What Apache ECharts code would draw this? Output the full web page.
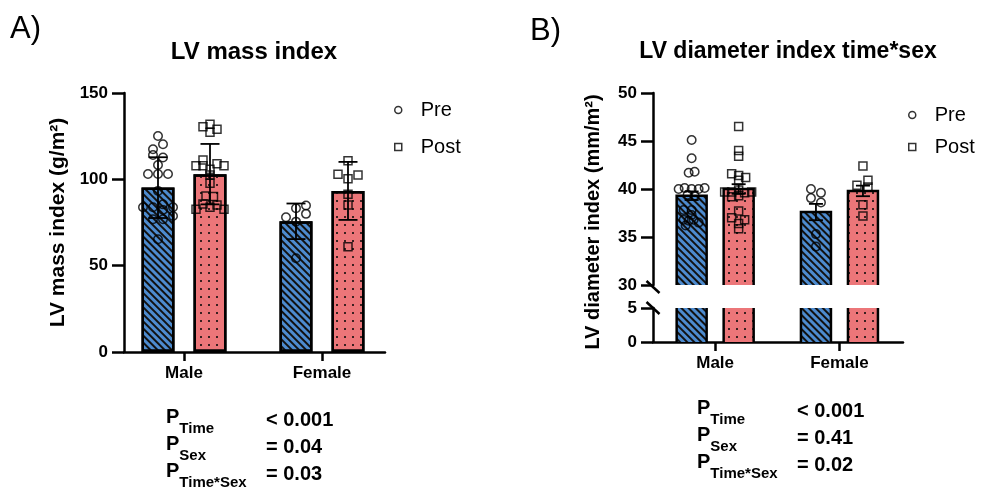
<!DOCTYPE html>
<html><head><meta charset="utf-8">
<script src="https://cdn.jsdelivr.net/npm/echarts@6/dist/echarts.min.js"></script>
<style>html,body{margin:0;padding:0;background:#fff}#c{width:982px;height:492px}</style>
</head><body><div id="c"></div>
<script>
// ---------- DATA ----------
const categories = ['Male', 'Female'];
const seriesNames = ['Pre', 'Post'];

// Panel A: LV mass index (g/m²) — mean ± SD
const massMeanPre  = [95.2, 75.7];
const massMeanPost = [103.0, 93.3];
const massSdPre    = [17.6, 10.3];
const massSdPost   = [17.5, 16.8];
const massMalePre    = [125.1,120.3,117.4,114.1,112.6,108.3,103.1,103.1,103.1,93.3,83.8,83.8,85.5,82.3,83.8,78.8,76.9,76.9,65.3];
const massMalePreJit = [0,5,-5,-5,5,0,-10,0,10,0,-15,-5,5,5,15,15,-5,5,0];
const massMalePost    = [130.5,131.9,129.0,127.3,107.9,111.2,107.9,105.8,109.0,107.9,102.5,97.7,90.4,90.0,85.7,83.8,85.2,82.7,82.7];
const massMalePostJit = [-7,0,7,0,-14,-7,-7,0,7,14,0,0,-4,3.5,-7,0,7,-14,14];
const massFemalePre    = [78.0,83.3,84.8,80.0,75.5,54.3];
const massFemalePreJit = [-10,0,10,10,0,0];
const massFemalePost    = [110.7,103.0,100.4,102.5,91.4,85.2,61.0];
const massFemalePostJit = [0,-10,0,10,0,0,0];

// Panel B: LV diameter index (mm/m²) — mean ± SEM
const diamMeanPre  = [39.3, 37.6];
const diamMeanPost = [40.0, 39.8];
const diamSemPre   = [0.45, 0.85];
const diamSemPost  = [0.5, 0.55];
const diamMalePre    = [45.1,43.2,41.7,41.8,40.0,40.1,40.0,40.0,40.1,39.4,39.3,37.8,37.8,37.3,36.8,36.7,36.8,36.5,36.2];
const diamMalePreJit = [0,0,-3,3,-13,-7,0,7,13,-4,3,-8,0,0,-8,-3,2,7,-6];
const diamMalePost    = [46.5,44.0,43.4,41.6,41.4,41.2,40.9,39.7,39.7,39.9,39.6,39.7,39.3,39.2,37.7,37.0,36.8,36.4,35.85];
const diamMalePostJit = [0,0,0,-7,0,7,0,-14,-7,0,6,13,0,-7,0,-7,6,0,0];
const diamFemalePre    = [40.0,39.6,39.05,38.6,35.3,34.0];
const diamFemalePreJit = [-5,5,-5,5,0,0];
const diamFemalePost    = [42.4,40.9,40.4,40.2,38.35,37.2];
const diamFemalePostJit = [0,5,-6,5,0,0];

const massTicks = [0, 50, 100, 150];
const diamTicksUpper = [30, 35, 40, 45, 50];
const diamTicksLower = [0, 5];

const pLabelsA = [['Time', '< 0.001'], ['Sex', '= 0.04'], ['Time*Sex', '= 0.03']];
const pLabelsB = [['Time', '< 0.001'], ['Sex', '= 0.41'], ['Time*Sex', '= 0.02']];

// ---------- LAYOUT / STYLE ----------
const FONT = '"Liberation Sans", Arial, Helvetica, sans-serif';
const BLUE = '#4d8bcf', PINK = '#ec7679';
const GA = {left: 124, top: 93, width: 261, height: 259};
const GBu = {left: 653, top: 93, width: 250, height: 192};
const GBl = {left: 653, top: 308, width: 250, height: 34};
// x axis in "category spacing" units
const A = {spacing: 138, first: 60 / 138, off: 26 / 138, barW: 33, cap: 19};
const B = {spacing: 124.3, first: 0.5, off: 23.5 / 124.3, barW: 30, cap: 14};
A.max = GA.width / A.spacing; B.max = GBu.width / B.spacing;

const hatch = {symbol: 'rect', symbolSize: 1, dashArrayX: [1, 0], dashArrayY: [1.5, 2.2], rotation: Math.PI / 4, color: '#111'};
const dots = {symbol: 'rect', symbolSize: 1, dashArrayX: [[1.4, 5.2]], dashArrayY: [1.4, 5.2], rotation: 0, color: '#3a2020'};
const barStyle = (i, bw) => ({color: i === 0 ? BLUE : PINK, borderColor: '#000', borderWidth: bw, decal: i === 0 ? hatch : dots});

function catPos(L, ci, si) { return L.first + ci + (si === 0 ? -L.off : L.off); }

function barData(L, pre, post, bw) {
  const out = [];
  for (let c = 0; c < categories.length; c++) {
    out.push({value: [catPos(L, c, 0), pre[c]], itemStyle: barStyle(0, bw)});
    out.push({value: [catPos(L, c, 1), post[c]], itemStyle: barStyle(1, bw)});
  }
  return out;
}
function errData(L, pre, post, ePre, ePost) {
  const out = [];
  for (let c = 0; c < categories.length; c++) {
    out.push([catPos(L, c, 0), pre[c] - ePre[c], pre[c] + ePre[c]]);
    out.push([catPos(L, c, 1), post[c] - ePost[c], post[c] + ePost[c]]);
  }
  return out;
}
function pts(L, ci, si, vals, jit) {
  return vals.map((v, i) => [catPos(L, ci, si) + jit[i] / L.spacing, v]);
}
function errRender(capW) {
  return function (params, api) {
    const x = api.value(0), lo = api.value(1), hi = api.value(2);
    const p1 = api.coord([x, lo]), p2 = api.coord([x, hi]);
    const h = capW / 2, st = {stroke: '#000', lineWidth: 1.8};
    return {type: 'group', children: [
      {type: 'line', shape: {x1: p1[0], y1: p1[1], x2: p2[0], y2: p2[1]}, style: st},
      {type: 'line', shape: {x1: p2[0] - h, y1: p2[1], x2: p2[0] + h, y2: p2[1]}, style: st},
      {type: 'line', shape: {x1: p1[0] - h, y1: p1[1], x2: p1[0] + h, y2: p1[1]}, style: st}
    ]};
  };
}
// outline of bars in the broken-axis panel (no edge where the bar is cut by the break)
function outlineRender(barW) {
  return function (params, api) {
    const cs = params.coordSys;
    const p = api.coord([api.value(0), api.value(1)]);
    const yBot = cs.y + cs.height;
    let yTop = p[1], drawTop = true;
    if (yTop < cs.y) { yTop = cs.y; drawTop = false; }
    const xl = p[0] - barW / 2, xr = p[0] + barW / 2;
    const st = {stroke: '#000', lineWidth: 2.5, fill: null};
    if (drawTop) return {type: 'polyline', shape: {points: [[xl, yBot], [xl, yTop], [xr, yTop], [xr, yBot]]}, style: st};
    return {type: 'group', children: [
      {type: 'line', shape: {x1: xl, y1: yTop, x2: xl, y2: yBot}, style: st},
      {type: 'line', shape: {x1: xr, y1: yTop, x2: xr, y2: yBot}, style: st}
    ]};
  };
}

const axisLineS = {show: true, lineStyle: {color: '#000', width: 2.5}};
const tickS = {show: true, inside: false, length: 12, lineStyle: {color: '#000', width: 2.5}};
const labS = {color: '#000', fontFamily: FONT, fontWeight: 'bold', fontSize: 17};

function xAxisFor(L, gridIndex, show) {
  const pos = categories.map((c, i) => L.first + i);
  return {
    type: 'value', gridIndex, min: 0, max: L.max, show,
    axisLine: axisLineS, splitLine: {show: false},
    axisTick: {show: true, length: 9, lineStyle: {color: '#000', width: 2.5}, customValues: pos},
    axisLabel: Object.assign({}, labS, {margin: 13, customValues: pos,
      formatter: (v) => categories[Math.round(v - L.first)]})
  };
}
function yAxisFor(gridIndex, min, max, interval, name) {
  return {
    type: 'value', gridIndex, min, max, interval,
    axisLine: axisLineS, axisTick: tickS, splitLine: {show: false},
    axisLabel: Object.assign({}, labS, {margin: 16}),
    name: name || '', nameLocation: 'middle', nameGap: 55,
    nameTextStyle: {color: '#000', fontFamily: FONT, fontWeight: 'bold', fontSize: 21}
  };
}

const symPre = {symbol: 'circle', symbolSize: 8.5, itemStyle: {color: 'rgba(0,0,0,0)', borderColor: '#000', borderWidth: 1.5}};
const symPost = {symbol: 'rect', symbolSize: 8, itemStyle: {color: 'rgba(0,0,0,0)', borderColor: '#000', borderWidth: 1.5}};

function pRows(x0, x1, y0, dy, rows) {
  const els = [];
  rows.forEach((r, i) => {
    els.push({type: 'text', x: x0, y: y0 + i * dy, style: {
      text: '{p|P}{s|' + r[0] + '}', textVerticalAlign: 'middle', fill: '#000',
      rich: {p: {fontFamily: FONT, fontWeight: 'bold', fontSize: 20, lineHeight: 26, verticalAlign: 'top'},
             s: {fontFamily: FONT, fontWeight: 'bold', fontSize: 15, lineHeight: 15, verticalAlign: 'bottom', padding: [0, 0, -3, 0]}}
    }});
    els.push({type: 'text', x: x1, y: y0 + i * dy, style: {
      text: r[1], textVerticalAlign: 'middle', fill: '#000', font: 'bold 20px ' + FONT}});
  });
  return els;
}

const chart = echarts.init(document.getElementById('c'), null, {renderer: 'canvas'});
const legendItem = (name, icon) => ({name, icon, itemStyle: {color: '#fff', borderColor: '#000', borderWidth: 1.5}});
const legendBase = {orient: 'vertical', itemWidth: 7, itemHeight: 7, selectedMode: false,
  textStyle: {fontFamily: FONT, fontSize: 20, color: '#000', padding: [0, 0, 0, 14]}};

chart.setOption({
  animation: false,
  backgroundColor: '#fff',
  grid: [
    Object.assign({}, GA, {containLabel: false}),
    Object.assign({}, GBu, {containLabel: false}),
    Object.assign({}, GBl, {containLabel: false})
  ],
  xAxis: [xAxisFor(A, 0, true), xAxisFor(B, 1, false), xAxisFor(B, 2, true)],
  yAxis: [
    yAxisFor(0, massTicks[0], massTicks[massTicks.length - 1], 50, 'LV mass index (g/m²)'),
    yAxisFor(1, diamTicksUpper[0], diamTicksUpper[diamTicksUpper.length - 1], 5),
    yAxisFor(2, diamTicksLower[0], diamTicksLower[1], 5)
  ],
  legend: [
    Object.assign({}, legendBase, {left: 389, top: 95, itemGap: 17, data: [legendItem('Pre', 'circle'), legendItem('Post', 'rect')]}),
    Object.assign({}, legendBase, {left: 903, top: 100, itemGap: 12, data: [legendItem('Pre', 'circle'), legendItem('Post', 'rect')]})
  ],
  series: [
    {type: 'bar', xAxisIndex: 0, yAxisIndex: 0, barWidth: A.barW, data: barData(A, massMeanPre, massMeanPost, 2.5), z: 2},
    {type: 'bar', xAxisIndex: 1, yAxisIndex: 1, barWidth: B.barW, clip: true, data: barData(B, diamMeanPre, diamMeanPost, 0), z: 2},
    {type: 'bar', xAxisIndex: 2, yAxisIndex: 2, barWidth: B.barW, clip: true, data: barData(B, diamMeanPre, diamMeanPost, 0), z: 2},
    {type: 'custom', xAxisIndex: 1, yAxisIndex: 1, renderItem: outlineRender(B.barW), silent: true,
      data: barData(B, diamMeanPre, diamMeanPost, 0).map(d => d.value), z: 3},
    {type: 'custom', xAxisIndex: 2, yAxisIndex: 2, renderItem: outlineRender(B.barW), silent: true,
      data: barData(B, diamMeanPre, diamMeanPost, 0).map(d => d.value), z: 3},
    {type: 'custom', xAxisIndex: 0, yAxisIndex: 0, renderItem: errRender(A.cap), data: errData(A, massMeanPre, massMeanPost, massSdPre, massSdPost), z: 3},
    {type: 'custom', xAxisIndex: 1, yAxisIndex: 1, renderItem: errRender(B.cap), data: errData(B, diamMeanPre, diamMeanPost, diamSemPre, diamSemPost), z: 3},
    Object.assign({type: 'scatter', name: 'Pre', xAxisIndex: 0, yAxisIndex: 0, z: 4,
      data: pts(A, 0, 0, massMalePre, massMalePreJit).concat(pts(A, 1, 0, massFemalePre, massFemalePreJit))}, symPre),
    Object.assign({type: 'scatter', name: 'Post', xAxisIndex: 0, yAxisIndex: 0, z: 4,
      data: pts(A, 0, 1, massMalePost, massMalePostJit).concat(pts(A, 1, 1, massFemalePost, massFemalePostJit))}, symPost),
    Object.assign({type: 'scatter', name: 'Pre', xAxisIndex: 1, yAxisIndex: 1, z: 4,
      data: pts(B, 0, 0, diamMalePre, diamMalePreJit).concat(pts(B, 1, 0, diamFemalePre, diamFemalePreJit))}, symPre),
    Object.assign({type: 'scatter', name: 'Post', xAxisIndex: 1, yAxisIndex: 1, z: 4,
      data: pts(B, 0, 1, diamMalePost, diamMalePostJit).concat(pts(B, 1, 1, diamFemalePost, diamFemalePostJit))}, symPost)
  ]
});

// break marks & texts
const yU = chart.convertToPixel({yAxisIndex: 1}, diamTicksUpper[0]);
const yL = chart.convertToPixel({yAxisIndex: 2}, diamTicksLower[1]);
const ax = GBu.left;
const slash = (cy) => ({type: 'line', shape: {x1: ax - 6.5, y1: cy - 6, x2: ax + 6.5, y2: cy + 6}, style: {stroke: '#000', lineWidth: 2.5}});

chart.setOption({
  graphic: [
    {type: 'text', x: 10, y: 29, style: {text: 'A)', font: '31px ' + FONT, fill: '#000', textVerticalAlign: 'middle'}},
    {type: 'text', x: 530, y: 31, style: {text: 'B)', font: '31px ' + FONT, fill: '#000', textVerticalAlign: 'middle'}},
    {type: 'text', x: 254, y: 52, style: {text: 'LV mass index', font: 'bold 24px ' + FONT, fill: '#000', textAlign: 'center', textVerticalAlign: 'middle'}},
    {type: 'text', x: 788, y: 52, style: {text: 'LV diameter index time*sex', font: 'bold 23px ' + FONT, fill: '#000', textAlign: 'center', textVerticalAlign: 'middle'}},
    {type: 'text', x: 593, y: 222, rotation: Math.PI / 2, style: {text: 'LV diameter index (mm/m²)', font: 'bold 20px ' + FONT, fill: '#000', textAlign: 'center', textVerticalAlign: 'middle'}},
    slash(yU + 2), slash(yL)
  ].concat(pRows(166, 266, 420, 27, pLabelsA)).concat(pRows(697, 797, 411, 27, pLabelsB))
});
</script>
</body></html>
